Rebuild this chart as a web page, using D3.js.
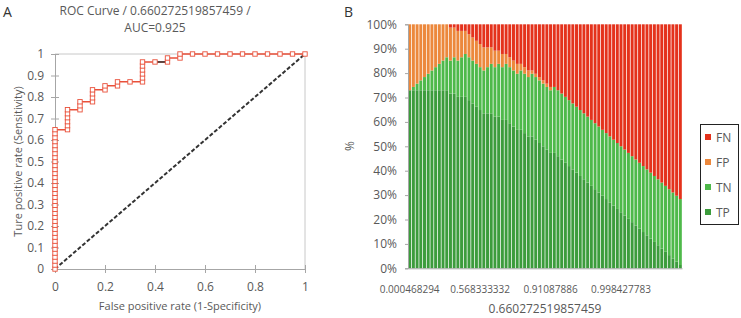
<!DOCTYPE html>
<html><head><meta charset="utf-8">
<script src="https://cdn.jsdelivr.net/npm/d3@7"></script>
<style>
body{margin:0;background:#fff;}
svg{display:block;font-family:"Open Sans","DejaVu Sans",sans-serif;}
</style></head>
<body><svg id="c" width="741" height="318"></svg>
<script>
// ---- Panel A data: ROC points (counts of false positives / true positives) ----
const nNeg = 20, nPos = 54;
const rocFP = [0,0,0,0,0,0,0,0,0,0,0,0,0,0,0,0,0,0,0,0,0,0,0,0,0,0,0,0,0,0,0,0,0,0,0,0,
  1,1,1,1,1,1, 2,2,2, 3,3,3,3, 4,4, 5,5, 6, 7,7,7,7,7,7, 8, 9,9, 10,10,
  11,12,13,14,15,16,17,18,19,20];
const rocTP = [0,1,2,3,4,5,6,7,8,9,10,11,12,13,14,15,16,17,18,19,20,21,22,23,24,25,26,27,28,29,30,31,32,33,34,35,
  35,36,37,38,39,40, 40,41,42, 42,43,44,45, 45,46, 46,47, 47, 47,48,49,50,51,52, 52, 52,53, 53,54,
  54,54,54,54,54,54,54,54,54,54];
const blackSegFP = [8,9], blackSegTP = [52,52];
const rocTicks = [0,0.1,0.2,0.3,0.4,0.5,0.6,0.7,0.8,0.9,1];
const rocXTicks = [0,0.2,0.4,0.6,0.8,1];

// ---- Panel B data: confusion counts per threshold bar ----
const TP = [54,54,54,54,54,54,54,54,54,54,54,
  53,53,52,52,52,51,50,49,48,47,
  47,47,46,46,45,45,44,43,42,
  42,41,40,40,39,38,37,36,35,
  35,34,33,32,31,30,29,28,27,26,25,24,23,22,21,20,19,18,17,16,15,14,13,12,11,10,9,8,7,6,5,4,3,2,1];
const TN = [0,1,2,3,4,5,6,7,8,9,10,
  10,11,11,12,13,13,13,13,13,13,
  14,15,15,16,16,17,17,17,17,
  18,18,18,19,19,19,19,19,19,
  20,20,20,20,20,20,20,20,20,20,20,20,20,20,20,20,20,20,20,20,20,20,20,20,20,20,20,20,20,20,20,20,20,20,20];
const FP = [20,19,18,17,16,15,14,13,12,11,10,
  10,9,9,8,7,7,7,7,7,7,
  6,5,5,4,4,3,3,3,3,
  2,2,2,1,1,1,1,1,1,
  0,0,0,0,0,0,0,0,0,0,0,0,0,0,0,0,0,0,0,0,0,0,0,0,0,0,0,0,0,0,0,0,0,0,0];
const FN = [0,0,0,0,0,0,0,0,0,0,0,
  1,1,2,2,2,3,4,5,6,7,
  7,7,8,8,9,9,10,11,12,
  12,13,14,14,15,16,17,18,19,
  19,20,21,22,23,24,25,26,27,28,29,30,31,32,33,34,35,36,37,38,39,40,41,42,43,44,45,46,47,48,49,50,51,52,53];
const xTickIndex = [0,19,38,57];
const xTickLabels = ["0.000468294","0.568333332","0.91087886","0.998427783"];
const seriesKeys = ["TP","TN","FP","FN"];
const seriesColors = {TP:"#3c9c3c", TN:"#4eb94a", FP:"#ec883c", FN:"#e4321c"};
const legendOrder = ["FN","FP","TN","TP"];
const pctTicks = [0,0.1,0.2,0.3,0.4,0.5,0.6,0.7,0.8,0.9,1];

const svg = d3.select("#c");
const txt = "#595959", axisCol = "#a6a6a6";

// ================= Panel A =================
const A = {l:55, r:305, t:54, b:269};
const xA = d3.scaleLinear().domain([0,1]).range([A.l,A.r]);
const yA = d3.scaleLinear().domain([0,1]).range([A.b,A.t]);
const gA = svg.append("g");

gA.append("text").attr("x",3).attr("y",17).attr("font-size",14).attr("fill","#333").text("A");
gA.append("text").attr("x",155).attr("y",15).attr("text-anchor","middle").attr("font-size",12).attr("fill",txt).text("ROC Curve / 0.660272519857459 /");
gA.append("text").attr("x",155).attr("y",32).attr("text-anchor","middle").attr("font-size",12).attr("fill",txt).text("AUC=0.925");

// frame top/right
gA.append("line").attr("x1",A.l).attr("x2",A.r).attr("y1",A.t).attr("y2",A.t).attr("stroke","#c8c8c8");
gA.append("line").attr("x1",A.r).attr("x2",A.r).attr("y1",A.t).attr("y2",A.b).attr("stroke","#c8c8c8");

const axL = gA.append("g").attr("transform",`translate(${A.l},0)`)
  .call(d3.axisLeft(yA).tickValues(rocTicks).tickSize(4).tickFormat(d3.format("")));
const axB = gA.append("g").attr("transform",`translate(0,${A.b})`)
  .call(d3.axisBottom(xA).tickValues(rocXTicks).tickSize(4).tickFormat(d3.format("")));
[axL,axB].forEach(a=>{
  a.select(".domain").attr("stroke",axisCol);
  a.selectAll(".tick line").attr("stroke",axisCol);
  a.selectAll("text").attr("fill",txt).attr("font-size",12).attr("font-family","Open Sans");
});
axL.selectAll(".tick line").attr("x1",4);
axL.selectAll("text").attr("x",-11);
axB.selectAll(".tick line").attr("y1",-4);
axB.selectAll("text").attr("y",13);

gA.append("text").attr("x",(A.l+A.r)/2).attr("y",310).attr("text-anchor","middle").attr("font-size",11).attr("fill",txt).text("False positive rate (1-Specificity)");
gA.append("text").attr("transform",`translate(22,${(A.t+A.b)/2}) rotate(-90)`).attr("text-anchor","middle").attr("font-size",11).attr("fill",txt).text("Ture positive rate (Sensitivity)");

// diagonal
gA.append("line").attr("x1",xA(0)).attr("y1",yA(0)).attr("x2",xA(1)).attr("y2",yA(1))
  .attr("stroke","#333").attr("stroke-width",2).attr("stroke-dasharray","4,2");

const rocPts = rocFP.map((f,i)=>({x:f/nNeg, y:rocTP[i]/nPos}));
const line = d3.line().x(d=>xA(d.x)).y(d=>yA(d.y));
const red = "#e9503a";
gA.append("path").datum(rocPts).attr("d",line).attr("fill","none").attr("stroke",red).attr("stroke-width",1.5);
gA.append("path").datum(blackSegFP.map((f,i)=>({x:f/nNeg,y:blackSegTP[i]/nPos})))
  .attr("d",line).attr("fill","none").attr("stroke","#333").attr("stroke-width",1.5);
gA.selectAll("rect.m").data(rocPts).join("rect").attr("class","m")
  .attr("x",d=>xA(d.x)-2.2).attr("y",d=>yA(d.y)-2.2).attr("width",4.4).attr("height",4.4)
  .attr("fill","#fff").attr("stroke",red).attr("stroke-width",0.9);

// ================= Panel B =================
const B = {l:408, r:682, t:24.3, b:268.3};
const idx = d3.range(TP.length);
const rows = idx.map(i=>({i, TP:TP[i], TN:TN[i], FP:FP[i], FN:FN[i]}));
const stacked = d3.stack().keys(seriesKeys).offset(d3.stackOffsetExpand)(rows);
const xB = d3.scaleBand().domain(idx).range([B.l,B.r]).paddingInner(0.2).paddingOuter(0.05);
const yB = d3.scaleLinear().domain([0,1]).range([B.b,B.t]);
const gB = svg.append("g");

gB.append("text").attr("x",344).attr("y",17).attr("font-size",14).attr("fill","#333").text("B");

gB.selectAll("g.s").data(stacked).join("g").attr("class","s").attr("fill",d=>seriesColors[d.key])
  .selectAll("rect").data(d=>d).join("rect")
  .attr("x",d=>xB(d.data.i)).attr("width",xB.bandwidth())
  .attr("y",d=>yB(d[1])).attr("height",d=>yB(d[0])-yB(d[1]));

const bL = gB.append("g").attr("transform",`translate(${B.l},0)`)
  .call(d3.axisLeft(yB).tickValues(pctTicks).tickSize(3).tickFormat(d3.format(".0%")));
const bB = gB.append("g").attr("transform",`translate(0,${B.b})`)
  .call(d3.axisBottom(xB).tickValues(xTickIndex).tickSize(0).tickFormat(d=>xTickLabels[xTickIndex.indexOf(d)]));
[bL,bB].forEach(a=>{
  a.select(".domain").attr("stroke",axisCol);
  a.selectAll(".tick line").attr("stroke",axisCol);
  a.selectAll("text").attr("fill",txt).attr("font-family","Open Sans");
});
bL.selectAll("text").attr("font-size",12).attr("x",-11);
bB.selectAll("text").attr("font-size",10).attr("y",18);

gB.append("text").attr("transform",`translate(354,146) rotate(-90)`).attr("text-anchor","middle").attr("font-size",12).attr("fill",txt).text("%");
gB.append("text").attr("x",545).attr("y",313).attr("text-anchor","middle").attr("font-size",12).attr("fill",txt).text("0.660272519857459");

// legend
const lg = gB.append("g");
lg.append("rect").attr("x",700.5).attr("y",124.5).attr("width",38).attr("height",100).attr("fill","#fff").attr("stroke","#222").attr("stroke-width",1);
const ly = d3.scalePoint().domain(legendOrder).range([137,212]);
legendOrder.forEach(k=>{
  lg.append("rect").attr("x",705).attr("y",ly(k)-3).attr("width",6).attr("height",6).attr("fill",seriesColors[k]);
  lg.append("text").attr("x",716).attr("y",ly(k)+4.5).attr("font-size",12).attr("fill",txt).text(k);
});
</script></body></html>
